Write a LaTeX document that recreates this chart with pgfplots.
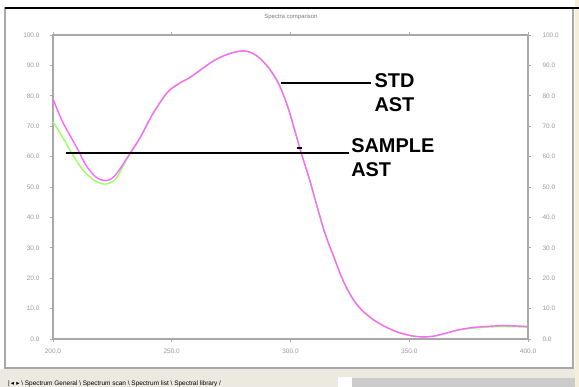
\documentclass[border=0pt]{standalone}
\usepackage{pgfplots}
\pgfplotsset{compat=1.18}
\usepackage{fontspec}
\setmainfont{Liberation Sans}
\newfontfamily\djv{DejaVu Sans}
\definecolor{magc}{HTML}{FF66FF}
\definecolor{grnc}{HTML}{99FF66}
\definecolor{axg}{HTML}{A8A8A8}
\definecolor{lblg}{HTML}{9A9A9A}
\definecolor{strip}{HTML}{ECE9E0}
\definecolor{cream}{HTML}{F6EEDC}
\pgfplotstableread{
x y
200 79
204 71.5
210 63
214 57
218 53.3
221 52.2
224 52.4
227 54.6
232 60.5
236.5 66
242 74
248 81
253 84
257.6 86
263 89
268 91.7
274 93.8
280 94.8
284 94
287 92.4
291 89
295 84
299 76
304.6 61
308 52.5
314 36
318 27.5
322 19.5
326 13.5
330 9.5
335 6.3
340 4
345 2.3
350 1.2
355 0.7
360 0.9
365 1.8
370 2.9
375 3.6
380 4
390 4.4
400 4.1
}\stdtab
\pgfplotstableread{
x y
200 71.4
203 67.8
208.4 60.5
212.6 55.6
217 52.4
221 51
224 51.3
227 53.3
232 60.5
236.5 66
242 74
248 81
253 84
257.6 86
263 89
268 91.7
274 93.8
280 94.8
284 94
287 92.4
291 89
295 84
299 76
304.6 61
308 52.5
314 36
318 27.5
322 19.5
326 13.5
330 9.5
335 6.3
340 4
345 2.3
350 1.2
355 0.7
360 0.9
365 1.8
370 2.8
375 3.4
380 3.8
390 4.1
400 3.9
}\samtab
\begin{document}
\begin{tikzpicture}
\useasboundingbox (0,0) rectangle (579bp,387bp);
\fill[white] (0,0) rectangle (579bp,387bp);
\fill[cream] (575bp,0) rectangle (579bp,387bp);
\fill[strip] (0,0) rectangle (575bp,18bp);
% window frame
\draw[axg,line width=1.5bp] (5bp,18bp) -- (5bp,380bp);
\draw[axg,line width=1.5bp] (573bp,18bp) -- (573bp,380bp);
\draw[axg,line width=1.5bp] (5bp,19bp) -- (573bp,19bp);
\draw[black,line width=1.5bp] (5bp,379bp) -- (579bp,379bp);
% tab strip
\fill[white] (338bp,0) rectangle (352bp,10bp);
\fill[axg!60] (352bp,0) rectangle (575bp,9bp);
\node[anchor=base west,inner sep=0,font=\fontsize{6.5}{7}\selectfont] at (8bp,1.5bp) {|\,{\djv ◂ ▸} \textbackslash\ Spectrum General \textbackslash\ Spectrum scan \textbackslash\ Spectrum list \textbackslash\ Spectral library /};
% title
\node[font=\fontsize{6}{7}\selectfont,text=lblg!80!black] at (291bp,370bp) {Spectra comparison};
\begin{axis}[
  at={(53bp,48bp)}, anchor=south west,
  scale only axis, width=475bp, height=304bp,
  xmin=200, xmax=400, ymin=0, ymax=100,
  clip=false,
  axis line style={axg,line width=1.2bp},
  xtick={200,250,300,350,400},
  ytick={0,10,...,100},
  tick align=outside,
  major tick length=3bp,
  tick style={axg,line width=0.8bp},
  xtick pos=both, ytick pos=left,
  /pgf/number format/assume math mode=true,
  /pgf/number format/.cd, fixed, fixed zerofill, precision=1, /pgfplots/.cd,
  ticklabel style={font=\fontsize{6.5}{7}\selectfont, text=lblg},
  xticklabel style={yshift=-3bp},
  yticklabel style={xshift=-7bp},
]
\addplot[grnc, line width=1.4bp, smooth, tension=0.5] table[x=x,y=y] {\samtab};
\addplot[magc, line width=1.4bp, smooth, tension=0.5] table[x=x,y=y] {\stdtab};
% annotations
\draw[black, line width=1.2bp] (axis cs:296.2,84.2) -- (axis cs:334,84.2);
\draw[black, line width=1.2bp] (axis cs:205.5,61.2) -- (axis cs:324.8,61.2);
\draw[black, line width=1.2bp] (axis cs:302.6,62.8) -- (axis cs:304.8,62.8);
\node[anchor=base west, inner sep=0, font=\fontsize{20}{24}\selectfont\bfseries] at (axis cs:335.3,82.6) {STD};
\node[anchor=base west, inner sep=0, font=\fontsize{20}{24}\selectfont\bfseries] at (axis cs:335.3,74.7) {AST};
\node[anchor=base west, inner sep=0, font=\fontsize{20}{24}\selectfont\bfseries] at (axis cs:325.5,61.5) {SAMPLE};
\node[anchor=base west, inner sep=0, font=\fontsize{20}{24}\selectfont\bfseries] at (axis cs:325.5,53.6) {AST};
\end{axis}
\begin{axis}[
  at={(53bp,48bp)}, anchor=south west,
  scale only axis, width=475bp, height=304bp,
  xmin=200, xmax=400, ymin=0, ymax=100,
  hide x axis,
  axis y line*=right,
  axis line style={axg,line width=1.2bp},
  ytick={0,10,...,100},
  tick align=outside,
  major tick length=3bp,
  tick style={axg,line width=0.8bp},
  /pgf/number format/assume math mode=true,
  /pgf/number format/.cd, fixed, fixed zerofill, precision=1, /pgfplots/.cd,
  ticklabel style={font=\fontsize{6.5}{7}\selectfont, text=lblg},
  yticklabel style={xshift=8bp},
]
\addplot[draw=none] coordinates {(200,0) (400,100)};
\end{axis}
\end{tikzpicture}
\end{document}
